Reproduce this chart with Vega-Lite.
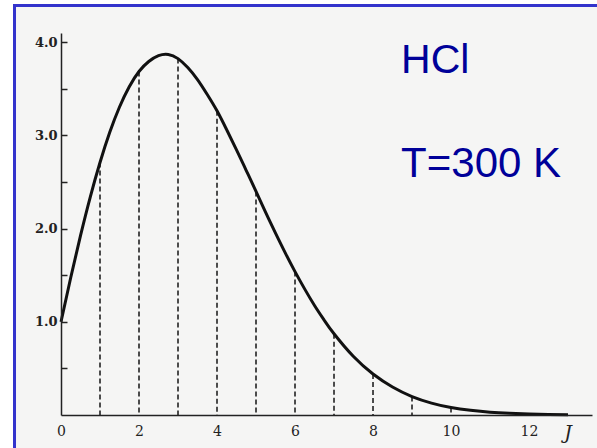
{
  "$schema": "https://vega.github.io/schema/vega-lite/v6.json",
  "autosize": {"type": "none"},
  "padding": {"left": 61, "top": 33, "right": 5, "bottom": 33},
  "width": 531,
  "height": 382,
  "background": "white",
  "config": {"view": {"stroke": null}},
  "datasets": {
    "curve": [
      {"J": 0, "pop": 1.0}, {"J": 0.25, "pop": 1.476}, {"J": 0.5, "pop": 1.925}, {"J": 0.75, "pop": 2.339},
      {"J": 1, "pop": 2.71}, {"J": 1.25, "pop": 3.034}, {"J": 1.5, "pop": 3.306}, {"J": 1.75, "pop": 3.524},
      {"J": 2, "pop": 3.687}, {"J": 2.25, "pop": 3.794}, {"J": 2.5, "pop": 3.857}, {"J": 2.75, "pop": 3.87},
      {"J": 3, "pop": 3.825}, {"J": 3.25, "pop": 3.729}, {"J": 3.5, "pop": 3.6}, {"J": 3.75, "pop": 3.44},
      {"J": 4, "pop": 3.265}, {"J": 4.25, "pop": 3.06}, {"J": 4.5, "pop": 2.846}, {"J": 4.75, "pop": 2.624},
      {"J": 5, "pop": 2.4}, {"J": 5.25, "pop": 2.171}, {"J": 5.5, "pop": 1.952}, {"J": 5.75, "pop": 1.74},
      {"J": 6, "pop": 1.539}, {"J": 6.25, "pop": 1.351}, {"J": 6.5, "pop": 1.176}, {"J": 6.75, "pop": 1.017},
      {"J": 7, "pop": 0.872}, {"J": 7.5, "pop": 0.627}, {"J": 8, "pop": 0.44}, {"J": 8.5, "pop": 0.3},
      {"J": 9, "pop": 0.198}, {"J": 9.5, "pop": 0.128}, {"J": 10, "pop": 0.08}, {"J": 10.5, "pop": 0.05},
      {"J": 11, "pop": 0.03}, {"J": 11.5, "pop": 0.018}, {"J": 12, "pop": 0.01}, {"J": 12.5, "pop": 0.005},
      {"J": 13, "pop": 0.002}
    ],
    "levels": [
      {"J": 1, "pop": 2.71}, {"J": 2, "pop": 3.687}, {"J": 3, "pop": 3.825}, {"J": 4, "pop": 3.265},
      {"J": 5, "pop": 2.4}, {"J": 6, "pop": 1.539}, {"J": 7, "pop": 0.872}, {"J": 8, "pop": 0.44},
      {"J": 9, "pop": 0.198}, {"J": 10, "pop": 0.08}
    ],
    "one": [{}]
  },
  "layer": [
    {
      "data": {"name": "one"},
      "mark": {"type": "rect", "fill": "#f5f5f4", "stroke": "#3333cc", "strokeWidth": 3, "clip": false},
      "encoding": {
        "x": {"datum": -1.192, "type": "quantitative", "scale": {"domain": [0, 13.615], "nice": false, "zero": false}},
        "x2": {"datum": 14.5},
        "y": {"datum": 4.394, "type": "quantitative", "scale": {"domain": [0, 4.1], "nice": false, "zero": false}},
        "y2": {"datum": -0.7}
      }
    },
    {
      "data": {"name": "levels"},
      "mark": {"type": "rule", "color": "#222222", "strokeWidth": 1.6, "strokeDash": [5, 3]},
      "encoding": {
        "x": {"field": "J", "type": "quantitative"},
        "y": {"field": "pop", "type": "quantitative"},
        "y2": {"datum": 0}
      }
    },
    {
      "data": {"name": "curve"},
      "mark": {"type": "line", "color": "#111111", "strokeWidth": 3, "interpolate": "natural"},
      "encoding": {
        "x": {
          "field": "J", "type": "quantitative", "title": null,
          "axis": {
            "zindex": 1,
            "values": [0, 2, 4, 6, 8, 10, 12],
            "ticks": false,
            "grid": false,
            "domainColor": "#222222",
            "domainWidth": 1.5,
            "labelFont": "DejaVu Serif",
            "labelFontSize": 14,
            "labelColor": "#222222",
            "labelPadding": 9,
            "labelFlush": false
          }
        },
        "y": {
          "field": "pop", "type": "quantitative", "title": null,
          "axis": {
            "zindex": 1,
            "values": [0.5, 1, 1.5, 2, 2.5, 3, 3.5, 4],
            "labelExpr": "datum.value % 1 == 0 ? format(datum.value, '.1f') : ''",
            "grid": false,
            "tickSize": -6,
            "tickColor": "#222222",
            "tickWidth": 1.5,
            "domainColor": "#222222",
            "domainWidth": 1.5,
            "labelFont": "DejaVu Serif",
            "labelFontWeight": "bold",
            "labelFontSize": 13,
            "labelColor": "#222222",
            "labelPadding": 10,
            "labelFlush": false
          }
        }
      }
    },
    {
      "data": {"name": "one"},
      "mark": {"type": "text", "text": "HCl", "font": "Liberation Sans", "fontSize": 41, "color": "#000099", "align": "left", "baseline": "alphabetic"},
      "encoding": {"x": {"datum": 8.72, "type": "quantitative"}, "y": {"datum": 3.67, "type": "quantitative"}}
    },
    {
      "data": {"name": "one"},
      "mark": {"type": "text", "text": "T=300 K", "font": "Liberation Sans", "fontSize": 42, "color": "#000099", "align": "left", "baseline": "alphabetic"},
      "encoding": {"x": {"datum": 8.72, "type": "quantitative"}, "y": {"datum": 2.555, "type": "quantitative"}}
    },
    {
      "data": {"name": "one"},
      "mark": {"type": "text", "text": "J", "font": "DejaVu Serif", "fontStyle": "italic", "fontSize": 19, "color": "#222222", "align": "center", "baseline": "middle", "clip": false},
      "encoding": {"x": {"datum": 13.0, "type": "quantitative"}, "y": {"datum": -0.19, "type": "quantitative"}}
    }
  ]
}
